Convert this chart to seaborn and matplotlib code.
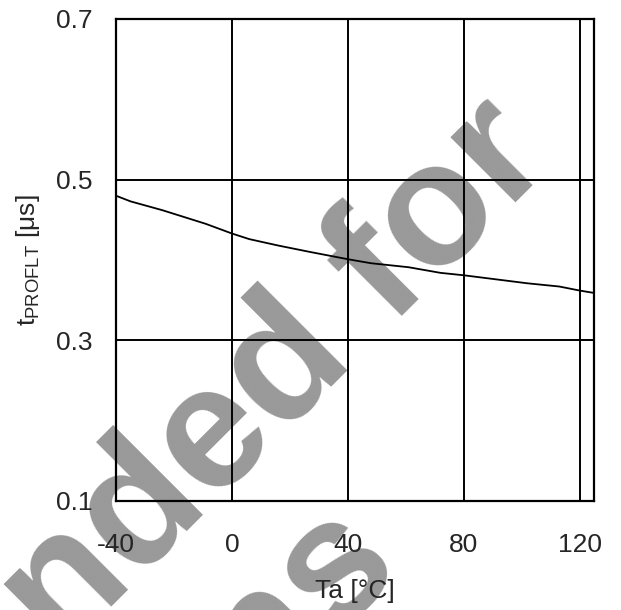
"""Tiempo tPROFLT frente a temperatura ambiente."""

import matplotlib
matplotlib.use("Agg")

import matplotlib.pyplot as plt
import pandas as pd
import seaborn as sns


# Datos
TEMPERATURES = [-40, -35, -24, -9, 0, 6, 16, 27, 40, 48, 61, 72, 80, 91, 102, 113, 120, 125]
T_PROFLT = [0.480, 0.473, 0.462, 0.445, 0.433, 0.426, 0.418, 0.410, 0.401,
            0.396, 0.391, 0.384, 0.381, 0.376, 0.371, 0.367, 0.362, 0.359]

X_TICKS = [-40, 0, 40, 80, 120]
Y_TICKS = [0.1, 0.3, 0.5, 0.7]

WATERMARK_LINES = ["Not Recommended for", "New Designs"]

W, H = 621, 610

sns.set_style("white")
plt.rcParams["font.family"] = ["Liberation Sans", "DejaVu Sans"]
plt.rcParams["mathtext.default"] = "regular"
plt.rcParams["axes.unicode_minus"] = False

data = pd.DataFrame({"Ta": TEMPERATURES, "t": T_PROFLT})

fig = plt.figure(figsize=(W / 100, H / 100), dpi=100)
ax = fig.add_axes([116 / W, 1 - 501 / H, (594 - 116) / W, (501 - 19) / H])
ax.set_facecolor("none")


def px(x, y):
    return x / W, 1 - y / H


# marca de agua por debajo de los ejes
wm_kw = dict(rotation=45, rotation_mode="anchor", ha="right", va="baseline",
             fontsize=126, fontweight="bold", color="#999999", zorder=-1,
             transform=fig.transFigure)
fig.text(*px(556, 162), WATERMARK_LINES[0], **wm_kw)
fig.text(*px(404, 570), WATERMARK_LINES[1], **wm_kw)

sns.lineplot(data=data, x="Ta", y="t", ax=ax, color="black", linewidth=1.3)

ax.set_xlim(-40, 125)
ax.set_ylim(0.1, 0.7)
ax.set_xticks(X_TICKS)
ax.set_yticks(Y_TICKS)
ax.set_yticklabels([f"{v:.1f}" for v in Y_TICKS])
ax.grid(True, color="black", linewidth=1.4)
ax.tick_params(axis="both", length=0, labelsize=19)
ax.tick_params(axis="x", pad=23)
ax.tick_params(axis="y", pad=17)
for spine in ax.spines.values():
    spine.set_color("black")
    spine.set_linewidth(1.6)

ax.set_xlabel("Ta [°C]", fontsize=19, labelpad=16)
ax.set_ylabel("t$_{PROFLT}$ [μs]", fontsize=19, labelpad=10)

fig.savefig("out.png", dpi=100)
